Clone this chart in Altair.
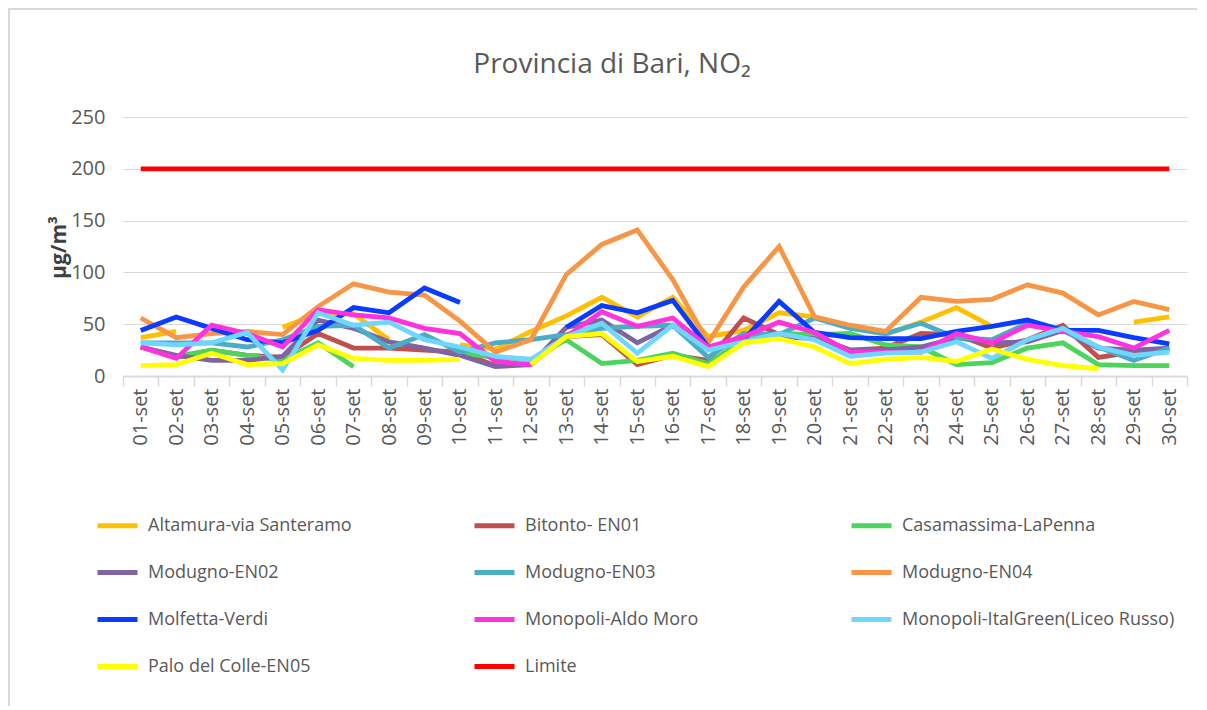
import altair as alt
import pandas as pd

days = ["01-set", "02-set", "03-set", "04-set", "05-set", "06-set", "07-set", "08-set", "09-set", "10-set",
        "11-set", "12-set", "13-set", "14-set", "15-set", "16-set", "17-set", "18-set", "19-set", "20-set",
        "21-set", "22-set", "23-set", "24-set", "25-set", "26-set", "27-set", "28-set", "29-set", "30-set"]

altamura = [37, 43, None, None, 47, 60, 60, 35, None, 30, 26, 43, 58, 76, 57, 76, 38, 44, 61, 57, 47, 40, 52, 66, 48, None, None, None, 52, 57]
bitonto = [28, 18, 25, 20, 18, 41, 27, 27, 25, 23, 10, 12, 38, 40, 11, 20, 15, 56, 40, 38, 25, 27, 41, 40, 27, 35, 49, 18, 23, 26]
casamassima = [28, 19, 25, 20, 15, 32, 9, None, None, 22, 18, 16, 35, 12, 15, 22, 12, 35, 41, 40, 41, 30, 28, 11, 13, 27, 32, 11, 10, 10]
modugno02 = [28, 20, 15, 15, 19, 54, 46, 33, 27, 20, 9, 11, 47, 54, 32, 49, 28, 33, 38, 36, 25, 25, 28, 37, 32, 33, 44, 27, 25, 27]
modugno03 = [32, 32, 32, 28, 35, 48, 49, 27, 40, 23, 32, 35, 40, 46, 48, 49, 18, 41, 40, 56, 46, 41, 51, 37, 35, 51, 44, 28, 15, 27]
modugno04 = [56, 37, 41, 43, 40, 67, 89, 81, 78, 53, 23, 35, 98, 127, 141, 93, 32, 86, 125, 57, 49, 43, 76, 72, 74, 88, 80, 59, 72, 64]
molfetta = [44, 57, 46, 35, 32, 44, 66, 61, 85, 71, None, None, 47, 68, 61, 73, 28, 35, 72, 42, 37, 36, 36, 43, 48, 54, 44, 44, 37, 31]
monopoli_am = [28, 17, 49, 41, 28, 64, 59, 56, 46, 41, 14, 11, 38, 62, 48, 56, 28, 38, 52, 42, 23, 23, 23, 41, 32, 49, 43, 38, 27, 44]
monopoli_ig = [32, 30, 32, 42, 6, 61, 49, 52, 35, 28, 19, 16, 38, 51, 22, 49, 25, 33, 41, 35, 19, 22, 23, 33, 17, 35, 46, 28, 20, 23]
palo = [10, 11, 22, 11, 12, 30, 17, 15, 15, 16, None, 11, 38, 41, 14, 19, 9, 32, 36, 28, 12, 16, 18, 14, 26, 16, 10, 7, None, None]
limite = [200, 200, 200, 200, 200, 200, 200, 200, 200, 200, 200, 200, 200, 200, 200,
          200, 200, 200, 200, 200, 200, 200, 200, 200, 200, 200, 200, 200, 200, 200]

names = ["Altamura-via Santeramo", "Bitonto- EN01", "Casamassima-LaPenna",
         "Modugno-EN02", "Modugno-EN03", "Modugno-EN04",
         "Molfetta-Verdi", "Monopoli-Aldo Moro", "Monopoli-ItalGreen(Liceo Russo)",
         "Palo del Colle-EN05", "Limite"]
series = [altamura, bitonto, casamassima, modugno02, modugno03, modugno04,
          molfetta, monopoli_am, monopoli_ig, palo, limite]
colors = ["#FFC000", "#C0504D", "#4CD45C", "#8064A2", "#4BACC6", "#F79646",
          "#0A3CFF", "#FF33DD", "#6FD6FF", "#FFFF00", "#FF0000"]

# legend fills column by column: reorder so it reads row by row (3 columns, 4 rows)
legend_order = [0, 3, 6, 9, 1, 4, 7, 10, 2, 5, 8]
leg_names = [names[i] for i in legend_order]
leg_colors = [colors[i] for i in legend_order]

rows = []
for name, vals in zip(names, series):
    for d, v in zip(days, vals):
        rows.append({"day": d, "series": name, "value": v})
df = pd.DataFrame(rows)

W, H = 1064, 259
FONT = "Open Sans"
GRAY = "#595959"

lines = alt.Chart(df).mark_line(strokeWidth=4.8, invalid="break-paths-show-domains").encode(
    x=alt.X("day:N", sort=days, bandPosition=0.5,
            scale=alt.Scale(type="band", paddingInner=0, paddingOuter=0),
            axis=alt.Axis(title=None, labelAngle=270, labelAlign="right", labelBaseline="middle",
                          tickBand="extent", grid=False, labelFontSize=20, labelColor=GRAY,
                          labelFont=FONT, labelPadding=2, tickSize=10, tickColor="#D9D9D9",
                          tickWidth=1.5, domainColor="#D9D9D9", domainWidth=2)),
    y=alt.Y("value:Q", scale=alt.Scale(domain=[0, 250], nice=False),
            axis=alt.Axis(values=[0, 50, 100, 150, 200, 250], grid=True, gridColor="#D9D9D9",
                          gridWidth=1.2, domain=False, ticks=False, labelFontSize=20,
                          labelColor=GRAY, labelFont=FONT, labelPadding=18,
                          title="µg/m³", titleFontSize=21, titleColor="#404040", titleFont=FONT,
                          titleFontWeight="bold", titleAngle=270, titleX=-64, titleY=130,
                          titleAlign="center", titleBaseline="middle")),
    color=alt.Color("series:N",
                    scale=alt.Scale(domain=leg_names, range=leg_colors),
                    legend=alt.Legend(title=None, orient="none", legendX=-28, legendY=386,
                                      columns=3, symbolType="stroke", symbolSize=1600,
                                      symbolStrokeWidth=5, labelFontSize=18, labelColor=GRAY,
                                      labelFont=FONT, labelLimit=400, labelOffset=8,
                                      columnPadding=43, rowPadding=14, gridAlign="all")),
)

one = pd.DataFrame({"k": [0]})
frame_top = alt.Chart(one).mark_rule(stroke="#D9D9D9", strokeWidth=2).encode(
    x=alt.value(-115), x2=alt.value(1100), y=alt.value(-108))
frame_left = alt.Chart(one).mark_rule(stroke="#D9D9D9", strokeWidth=2).encode(
    x=alt.value(-114), y=alt.value(-108), y2=alt.value(700))

title = alt.Chart(pd.DataFrame({"t": ["Provincia di Bari, NO₂"]})).mark_text(
    fontSize=28, font=FONT, color=GRAY, align="center", baseline="middle"
).encode(text="t:N", x=alt.value(489), y=alt.value(-52))

chart = alt.layer(frame_top, frame_left, lines, title).properties(
    width=W, height=H,
    padding={"left": 115, "top": 109, "right": 10, "bottom": 330},
    autosize=alt.AutoSizeParams(type="none"),
).configure_view(stroke=None)

chart.save("out.html", embed_options={"renderer": "svg", "actions": False})
